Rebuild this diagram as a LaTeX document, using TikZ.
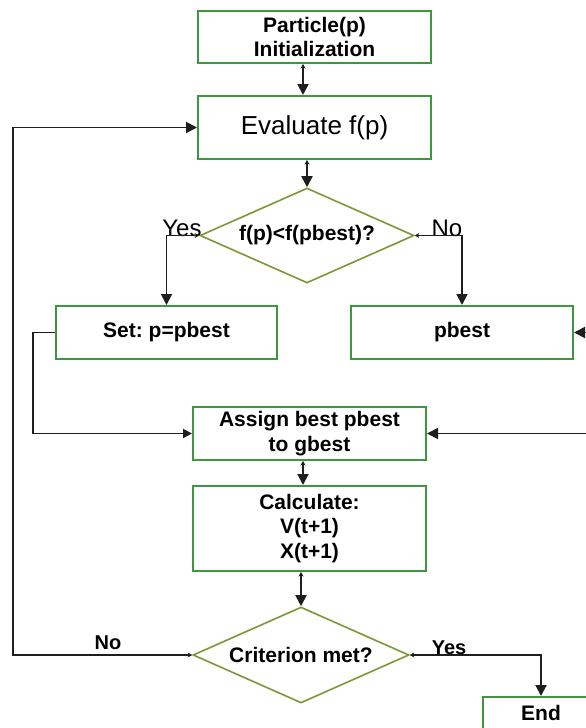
\documentclass[tikz,border=0pt]{standalone}
\usepackage{fontspec}
\setmainfont{Liberation Sans}
\usetikzlibrary{shapes.geometric,arrows.meta}
\definecolor{boxgreen}{RGB}{62,150,62}
\definecolor{olivegreen}{RGB}{122,152,52}
\definecolor{linegray}{RGB}{30,30,30}

\begin{document}
\begin{tikzpicture}[x=1pt,y=-1pt,
        box/.style={draw=boxgreen,line width=2pt,fill=white,inner sep=0pt,align=center,
            font=\fontsize{21}{24.5}\selectfont\bfseries\frenchspacing},
        test/.style={draw=olivegreen,line width=1.6pt,diamond,aspect=2.25,inner sep=0pt,
            font=\fontsize{21}{24.5}\selectfont\bfseries},
        flow/.style={draw=linegray,line width=1.9pt,
            -{Triangle[length=11pt,width=11pt]}},
        both/.style={flow,{Stealth[length=4.5pt,width=5pt]}-{Triangle[length=11pt,width=11pt]}},
        lbl/.style={inner sep=0pt,font=\fontsize{24}{24}\selectfont},
        blbl/.style={inner sep=0pt,font=\fontsize{20}{20}\selectfont\bfseries}]
        \useasboundingbox[fill=white](0,0)rectangle(586,728);
        \clip(0,0)rectangle(586,728);

        \node[box,minimum width=233pt,minimum height=52pt](init)at(314.5,37){Particle(p)\\Initialization};
        \node[box,minimum width=233pt,minimum height=63pt,font=\fontsize{26}{26}\selectfont](eval)at(314.5,127.5){Evaluate f(p)};
        \node[test,minimum width=214pt,minimum height=95pt](better)at(307,235.5){f(p)<f(pbest)?};
        \node[box,minimum width=221pt,minimum height=53pt](setp)at(166.5,332.5){Set: p=pbest};
        \node[box,minimum width=222pt,minimum height=53pt](pbest)at(462,332.5){pbest};
        \node[box,minimum width=233pt,minimum height=53pt](assign)at(309.5,433.5){Assign best pbest\\to gbest};
        \node[box,minimum width=233pt,minimum height=85pt](calc)at(309.5,528.5){Calculate:\\V(t+1)\\X(t+1)};
        \node[test,minimum width=216pt,minimum height=96pt](crit)at(301,655){Criterion met?};
        \node[box,minimum width=116pt,minimum height=32pt](finish)at(541,713){End};

        \node[lbl](yesA)at(182,228){Yes};
        \node[lbl](noA)at(447,228){No};
        \node[blbl](noB)at(108,643){No};
        \node[blbl](yesB)at(449,648){Yes};

        \coordinate(loopL)at(13,655);
        \coordinate(offR)at(600,381);

        \draw[both]([xshift=-11.5pt]init.south)--([xshift=-11.5pt]eval.north);
        \draw[both](better.north|-eval.south)--(better.north);
        \draw[both](better.west)-|(setp.north);
        \draw[both](better.east)-|(pbest.north);
        \draw[flow,-{Triangle[length=9pt,width=9pt]}](setp.west)--++(-22,0)|-(assign.west);
        \draw[flow](offR)|-(pbest.east);
        \draw[flow](offR)|-(assign.east);
        \draw[both]([xshift=-6.5pt]assign.south)--([xshift=-6.5pt]calc.north);
        \draw[both](crit.north|-calc.south)--(crit.north);
        \draw[both](crit.east)-|(finish.north);
        \draw[both](crit.west)--(loopL)|-(eval.west);
    \end{tikzpicture}
\end{document}
